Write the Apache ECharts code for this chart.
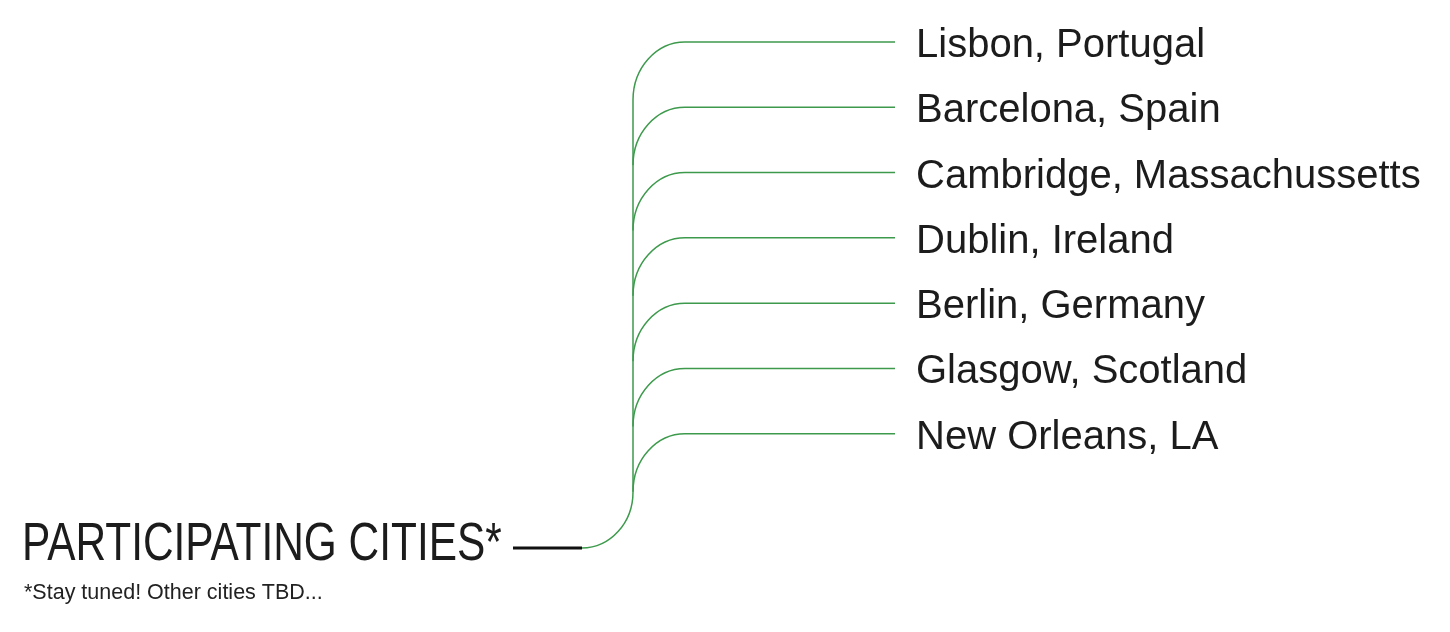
<!DOCTYPE html>
<html>
<head>
<meta charset="utf-8">
<script src="https://cdn.jsdelivr.net/npm/echarts@6/dist/echarts.min.js"></script>
<style>
  html, body { margin: 0; padding: 0; background: #fff; }
  #main { width: 1450px; height: 632px; }
</style>
</head>
<body>
<div id="main"></div>
<script>
// data
var cities = [
    'Lisbon, Portugal',
    'Barcelona, Spain',
    'Cambridge, Massachussetts',
    'Dublin, Ireland',
    'Berlin, Germany',
    'Glasgow, Scotland',
    'New Orleans, LA'
];
var rootLabel = 'PARTICIPATING CITIES*';
var rootNote = '*Stay tuned! Other cities TBD...';

// layout (x in pixel units of the hidden x axis, rows on the hidden y axis)
var ROOT_ROW = 7.75;
var STEM_START = 513, STEM_END = 582, TRUNK_X = 633, ELBOW_X = 685, BRANCH_END = 895, LABEL_X = 916;
var ARC_H = 58;
var GREEN = '#3d9a4c';
var FONT = 'Liberation Sans';

var chartDom = document.getElementById('main');
var myChart = echarts.init(chartDom);
var option;

function branchItem(params, api) {
    var y = api.coord([0, api.value(0)])[1];
    var xt = api.coord([TRUNK_X, 0])[0];
    var xe = api.coord([ELBOW_X, 0])[0];
    var xb = api.coord([BRANCH_END, 0])[0];
    var xl = api.coord([LABEL_X, 0])[0];
    var k = 0.5523;
    return {
        type: 'group',
        children: [
            {
                type: 'bezierCurve',
                shape: {
                    x1: xt, y1: y + ARC_H,
                    cpx1: xt, cpy1: y + ARC_H - k * ARC_H,
                    cpx2: xe - k * (xe - xt), cpy2: y,
                    x2: xe, y2: y
                },
                style: { stroke: GREEN, lineWidth: 1.5, fill: null }
            },
            {
                type: 'line',
                shape: { x1: xe, y1: y, x2: xb, y2: y },
                style: { stroke: GREEN, lineWidth: 1.5 }
            },
            {
                type: 'text',
                x: xl, y: y + 4,
                style: {
                    text: cities[params.dataIndex],
                    fontFamily: FONT,
                    fontSize: 40,
                    fill: '#1c1c1c',
                    align: 'left',
                    verticalAlign: 'middle'
                }
            }
        ]
    };
}

function trunkItem(params, api) {
    var y = api.coord([0, api.value(0)])[1];
    var yTop = api.coord([0, 0])[1] + ARC_H;
    var xs = api.coord([STEM_START, 0])[0];
    var xr = api.coord([STEM_END, 0])[0];
    var xt = api.coord([TRUNK_X, 0])[0];
    var k = 0.5523;
    var h = 56;
    return {
        type: 'group',
        children: [
            {
                type: 'line',
                shape: { x1: xs, y1: y, x2: xr, y2: y },
                style: { stroke: '#111', lineWidth: 3 }
            },
            {
                type: 'bezierCurve',
                shape: {
                    x1: xr, y1: y,
                    cpx1: xr + k * (xt - xr), cpy1: y,
                    cpx2: xt, cpy2: y - h + k * h,
                    x2: xt, y2: y - h
                },
                style: { stroke: GREEN, lineWidth: 1.5, fill: null }
            },
            {
                type: 'line',
                shape: { x1: xt, y1: y - h, x2: xt, y2: yTop },
                style: { stroke: GREEN, lineWidth: 1.5 }
            },
            {
                // condensed title, squeezed horizontally
                type: 'text',
                x: 22, y: y - 3,
                scaleX: 0.785,
                style: {
                    text: rootLabel,
                    fontFamily: FONT,
                    fontSize: 54,
                    fill: '#1c1c1c',
                    align: 'left',
                    verticalAlign: 'middle'
                }
            },
            {
                type: 'text',
                x: 24, y: y + 45,
                style: {
                    text: rootNote,
                    fontFamily: FONT,
                    fontSize: 21.5,
                    fill: '#222',
                    align: 'left',
                    verticalAlign: 'middle'
                }
            }
        ]
    };
}

option = {
    animation: false,
    grid: { left: 0, right: 0, top: 42, bottom: 84 },
    xAxis: { type: 'value', min: 0, max: 1450, show: false },
    yAxis: { type: 'value', min: 0, max: ROOT_ROW, inverse: true, show: false },
    series: [
        {
            type: 'custom',
            name: 'branches',
            clip: false,
            renderItem: branchItem,
            data: cities.map(function (c, i) { return [i]; })
        },
        {
            type: 'custom',
            name: 'trunk',
            clip: false,
            renderItem: trunkItem,
            data: [[ROOT_ROW]]
        }
    ]
};
option && myChart.setOption(option);
</script>
</body>
</html>
